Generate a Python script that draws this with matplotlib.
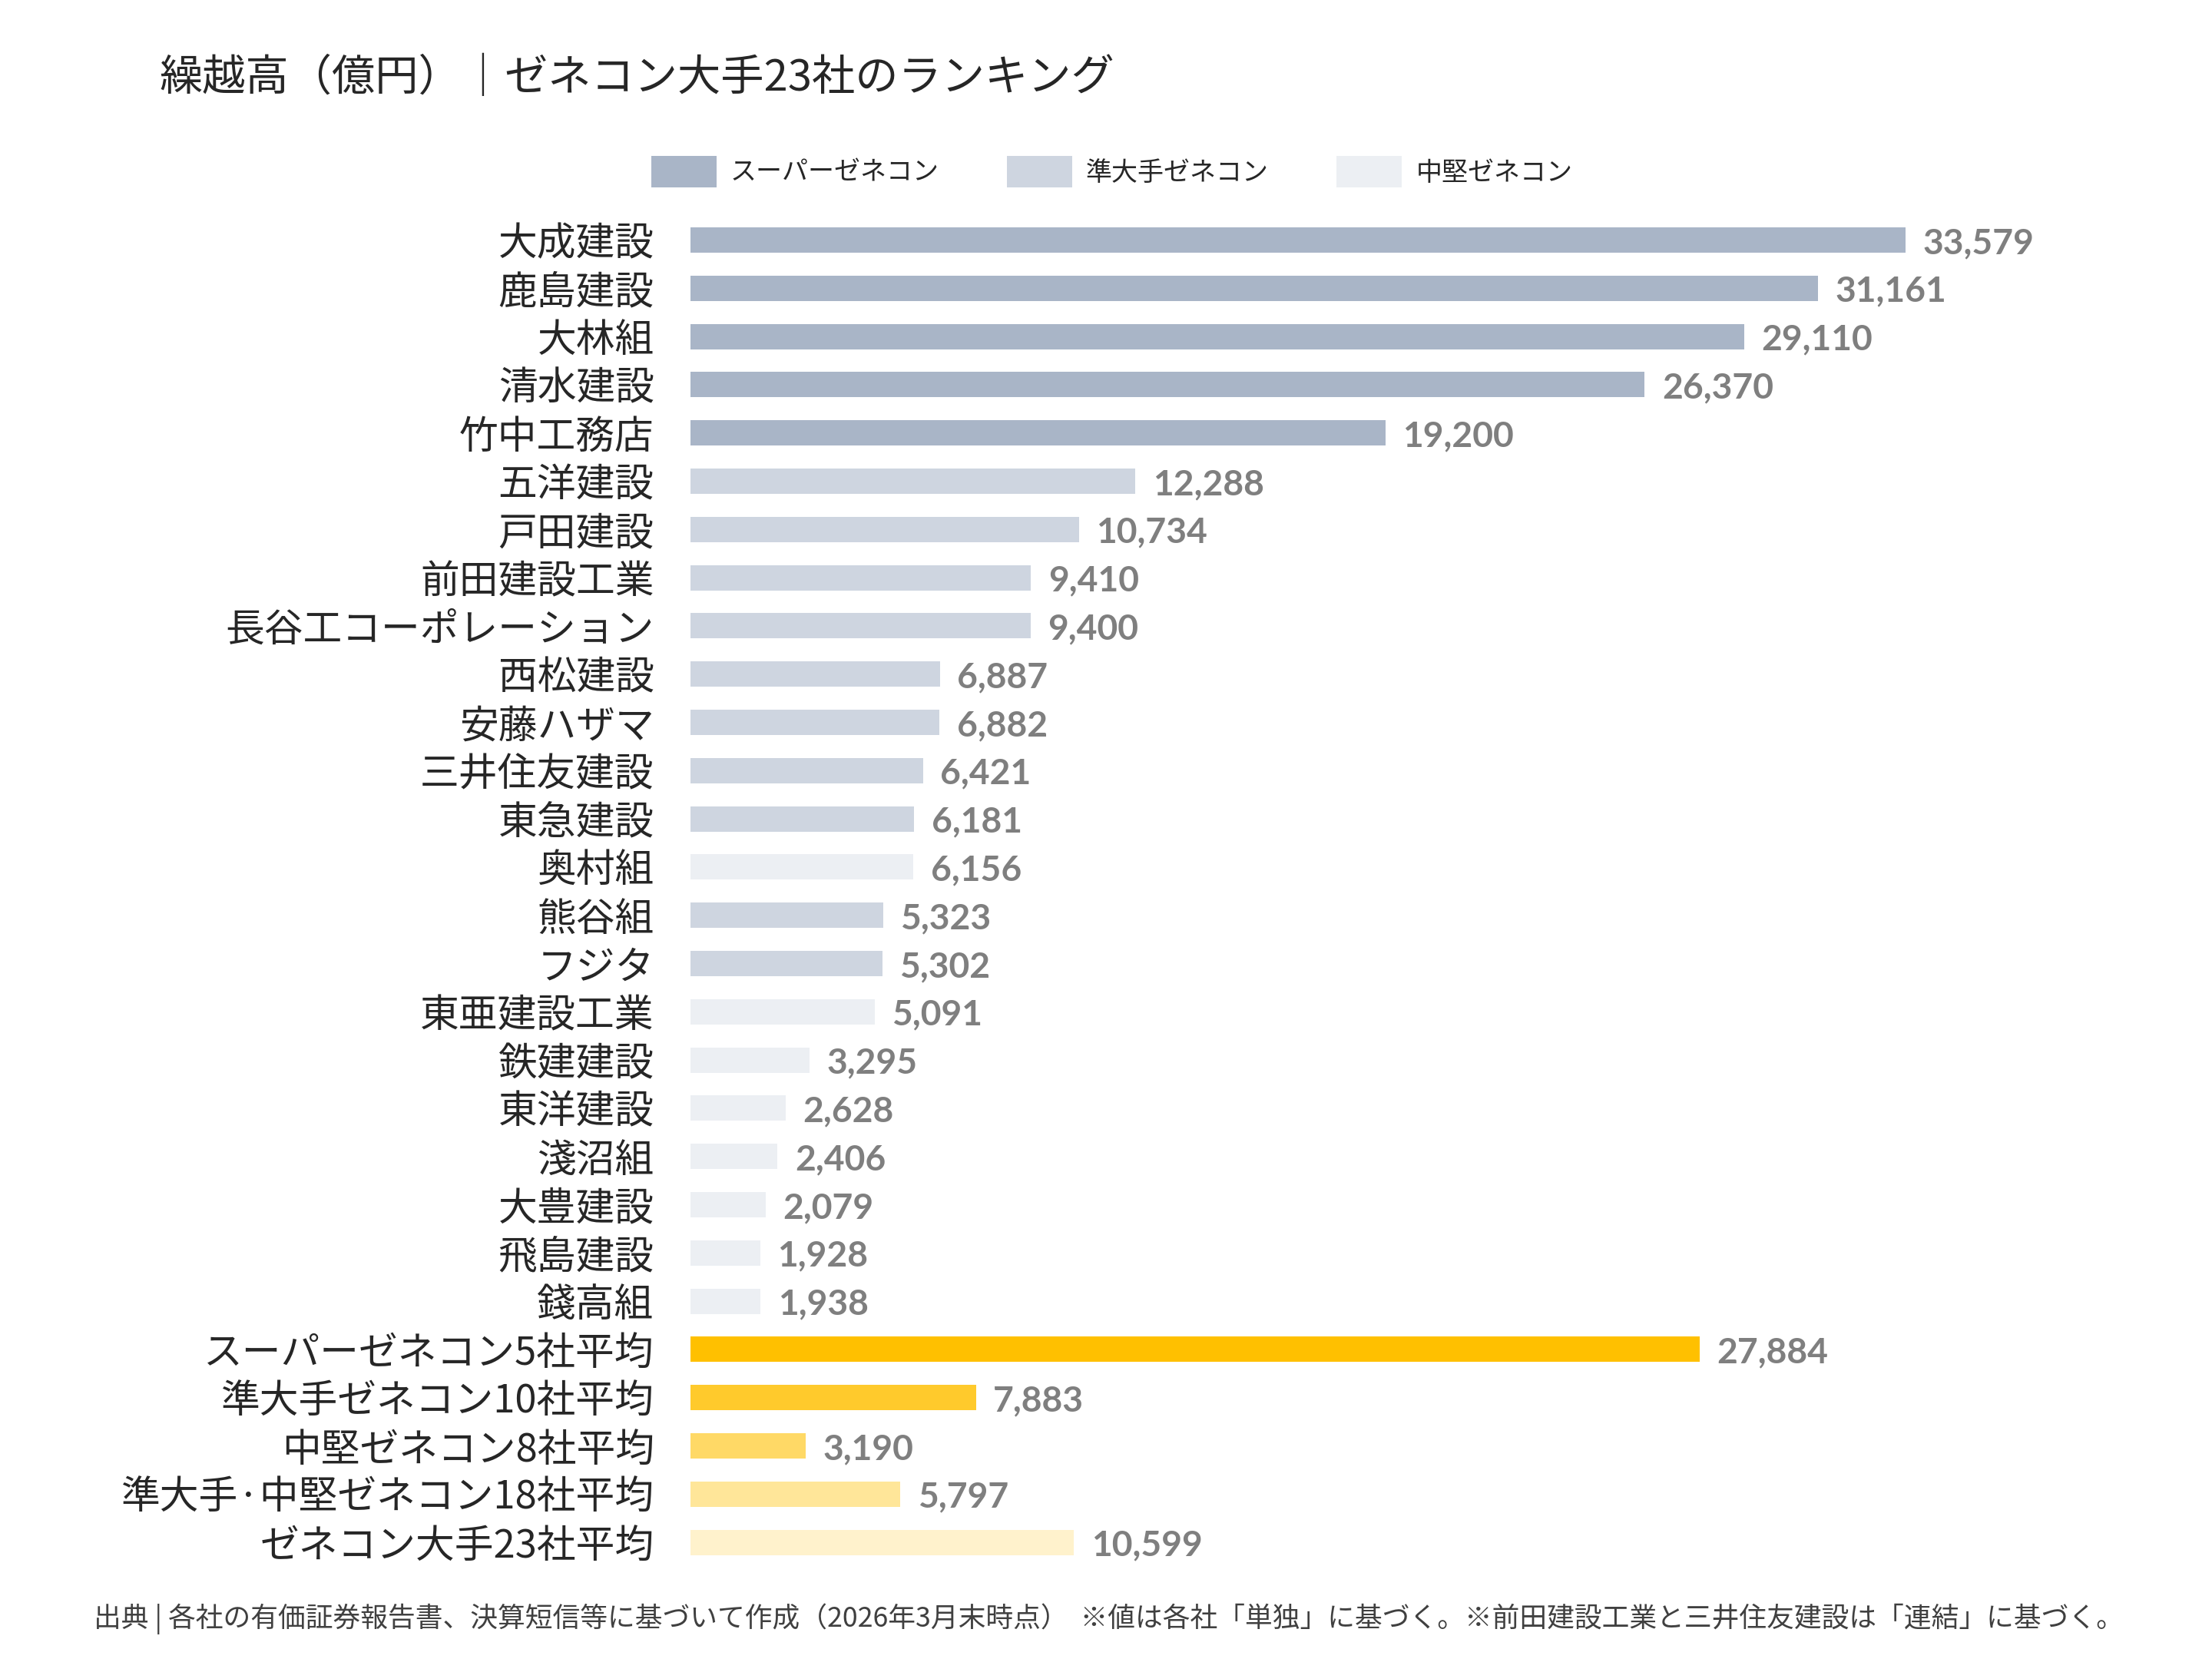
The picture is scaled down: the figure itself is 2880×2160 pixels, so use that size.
import matplotlib
matplotlib.use("Agg")
import matplotlib.pyplot as plt
from matplotlib.patches import Patch

plt.rcParams['font.family'] = ['Noto Sans CJK JP', 'DejaVu Sans']

companies = ["大成建設", "鹿島建設", "大林組", "清水建設", "竹中工務店",
             "五洋建設", "戸田建設", "前田建設工業", "長谷工コーポレーション", "西松建設",
             "安藤ハザマ", "三井住友建設", "東急建設", "奥村組", "熊谷組", "フジタ",
             "東亜建設工業", "鉄建建設", "東洋建設", "淺沼組", "大豊建設", "飛島建設", "錢高組",
             "スーパーゼネコン5社平均", "準大手ゼネコン10社平均", "中堅ゼネコン8社平均",
             "準大手·中堅ゼネコン18社平均", "ゼネコン大手23社平均"]
values = [33579, 31161, 29110, 26370, 19200,
          12288, 10734, 9410, 9400, 6887,
          6882, 6421, 6181, 6156, 5323, 5302,
          5091, 3295, 2628, 2406, 2079, 1928, 1938,
          27884, 7883, 3190, 5797, 10599]
groups = ["super"] * 5 + ["semi"] * 8 + ["mid"] + ["semi"] * 2 + ["mid"] * 7 + \
         ["avg1", "avg2", "avg3", "avg4", "avg5"]

legend_labels = ["スーパーゼネコン", "準大手ゼネコン", "中堅ゼネコン"]
group_colors = {"super": "#A9B5C7", "semi": "#CED5E0", "mid": "#ECEFF3",
                "avg1": "#FFC000", "avg2": "#FFCA2C", "avg3": "#FFD966",
                "avg4": "#FFE699", "avg5": "#FFF2CC"}

title = "繰越高（億円）｜ゼネコン大手23社のランキング"
footer = "出典 | 各社の有価証券報告書、決算短信等に基づいて作成（2026年3月末時点）  ※値は各社「単独」に基づく。※前田建設工業と三井住友建設は「連結」に基づく。"

fig = plt.figure(figsize=(16, 12), dpi=180)
ax = fig.add_axes([0.3122, 0.0558, 0.6378, 0.8141])

ypos = list(range(len(companies)))
colors = [group_colors[g] for g in groups]
bars = ax.barh(ypos, values, height=0.525, color=colors, edgecolor='none')

ax.set_xlim(0, 38990)
ax.set_ylim(len(companies) - 0.5, -0.5)
ax.set_yticks(ypos)
ax.set_yticklabels(companies, fontsize=20.3, color='#262626')
ax.tick_params(axis='y', length=0, pad=19)
ax.set_xticks([])
for s in ax.spines.values():
    s.set_visible(False)

for b, v in zip(bars, values):
    ax.annotate(f"{v:,}", xy=(b.get_width(), b.get_y() + b.get_height() / 2),
                xytext=(9, -1.8), textcoords='offset points', ha='left', va='center',
                fontsize=18.5, fontweight='bold', color='#7F7F7F',
                family=['Lato', 'DejaVu Sans'])

fig.text(0.072, 0.9525, title, fontsize=22.5, color='#262626', ha='left', va='center')

handles = [Patch(facecolor=group_colors[g], edgecolor='none') for g in ["super", "semi", "mid"]]
fig.legend(handles, legend_labels, loc='center', bbox_to_anchor=(0.5026, 0.8965),
           ncol=3, frameon=False, fontsize=13.6, handlelength=2.5, handleheight=1.44,
           handletextpad=0.53, columnspacing=2.6, borderpad=0, labelcolor='#262626')

fig.text(0.0425, 0.024, footer, fontsize=14.3, color='#404040', ha='left', va='center')

fig.savefig("out.png", dpi=180)
